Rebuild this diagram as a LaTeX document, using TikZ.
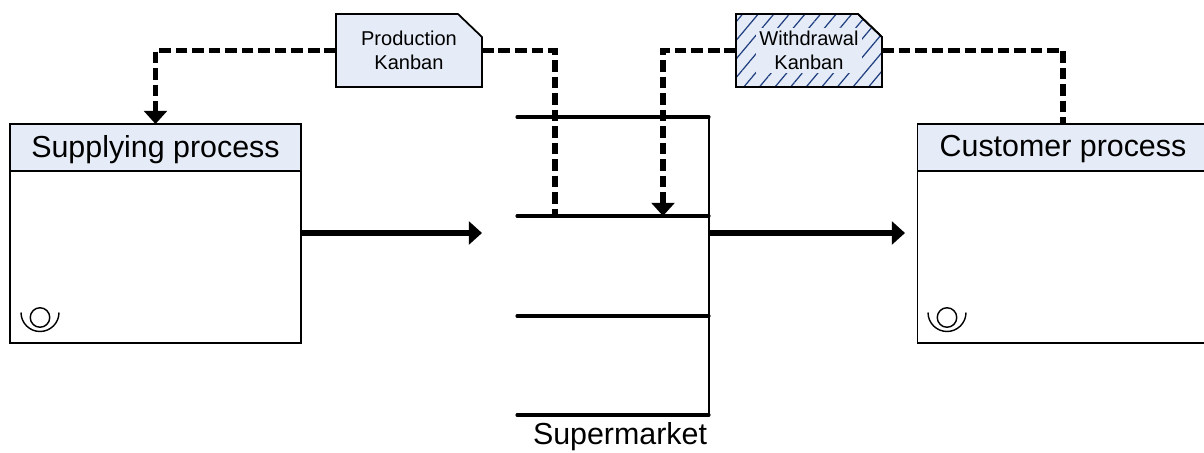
\documentclass[tikz,border=0pt]{standalone}
\usepackage{fontspec}
\setmainfont{Liberation Sans}
\usetikzlibrary{arrows.meta}
\usetikzlibrary{calc, patterns.meta}
\definecolor{kanbanfill}{RGB}{230,236,247}
\definecolor{hatchblue}{RGB}{31,63,128}
\tikzset{
  titlebox/.style={draw=black, line width=0.7pt, fill=kanbanfill, minimum width=291*0.569pt, minimum height=47*0.569pt, inner sep=0pt, outer sep=0pt, text depth=1.5pt, font=\fontsize{17.3}{20}\selectfont},
  bodybox/.style={draw=black, line width=0.7pt, fill=white, minimum width=291*0.569pt, minimum height=172*0.569pt, inner sep=0pt, outer sep=0pt},
  kanbanbox/.style={minimum width=146*0.569pt, minimum height=73*0.569pt, inner sep=0pt, outer sep=0pt},
  kanbanedge/.style={draw=black, line width=1pt, fill=kanbanfill},
  kanbantext/.style={align=center, inner sep=2pt, font=\fontsize{11.4}{13.8}\selectfont},
  signal/.style={black, line width=3.3pt, dash pattern=on 6.6pt off 2.8pt},
  flow/.style={black, line width=3pt},
  shelf/.style={black, line width=1.8pt, line cap=round},
  backline/.style={black, line width=1.5pt},
  opicon/.pic={
    \node [circle, draw=black, line width=0.8pt, minimum size=19.5*0.569pt, inner sep=0pt] (-head) at (0,0) {};
    \draw [black, line width=0.8pt] (-19,5) arc [start angle=180, end angle=360, radius=19];
  }
}
\begin{document}
\begin{tikzpicture}[x=0.02cm, y=0.02cm]
  \useasboundingbox (0,0) rectangle (1204,453);

  % boxes
  \node [titlebox] (suptitle) at (155.5,305.5) {Supplying process};
  \node [bodybox, anchor=north] (supbody) at (suptitle.south) {};
  \node [titlebox] (custitle) at (1063,305.5) {Customer process};
  \node [bodybox, anchor=north] (cusbody) at (custitle.south) {};
  \pic (supop) at (40,135.5) {opicon};
  \pic (cusop) at (947,135.5) {opicon};

  % supermarket
  \coordinate (shelfa) at (517,336);
  \coordinate (shelfb) at (517,237);
  \coordinate (shelfc) at (517,137);
  \coordinate (shelfd) at (517,38);
  \coordinate (backa) at (709,336);
  \coordinate (backb) at (709,237);
  \coordinate (backc) at (709,137);
  \coordinate (backd) at (709,38);
  \draw [shelf] (shelfa) -- (backa);
  \draw [shelf] (shelfb) -- (backb);
  \draw [shelf] (shelfc) -- (backc);
  \draw [shelf] (shelfd) -- (backd);
  \draw [backline] (backa) -- (backd);
  \node [font=\fontsize{17.3}{20}\selectfont] (market) at (620,16) {Supermarket};

  % kanban cards
  \node [kanbanbox] (prodcard) at (409,402.5) {};
  \node [kanbanbox] (withcard) at (809,402.5) {};
  \draw [kanbanedge] (prodcard.south west) -- (prodcard.north west) -- ($(prodcard.north east)+(-24,0)$) -- ($(prodcard.north east)+(0,-23)$) -- (prodcard.south east) -- cycle;
  \draw [kanbanedge] (withcard.south west) -- (withcard.north west) -- ($(withcard.north east)+(-24,0)$) -- ($(withcard.north east)+(0,-23)$) -- (withcard.south east) -- cycle;
  \fill [pattern={Lines[angle=50, distance=6.8pt, line width=0.7pt]}, pattern color=hatchblue] (withcard.south west) -- (withcard.north west) -- ($(withcard.north east)+(-24,0)$) -- ($(withcard.north east)+(0,-23)$) -- (withcard.south east) -- cycle;
  \draw [black, line width=1pt] (withcard.south west) -- (withcard.north west) -- ($(withcard.north east)+(-24,0)$) -- ($(withcard.north east)+(0,-23)$) -- (withcard.south east) -- cycle;
  \node [kanbantext] (prodtext) at (prodcard) {Production\\Kanban};
  \node [kanbantext, fill=kanbanfill] (withtext) at (withcard) {Withdrawal\\Kanban};

  % signals
  \coordinate (prodend) at (555,237);
  \coordinate (withend) at (663,237);
  \draw [signal, arrows=-{Triangle[length=7.5pt, width=13pt]}] (prodcard.west) -| (suptitle.north);
  \draw [signal] (prodcard.east) -| (prodend);
  \draw [signal, arrows=-{Triangle[length=7.5pt, width=13pt]}] (withcard.west) -| (withend);
  \draw [signal] (withcard.east) -| (custitle.north);

  % flows
  \coordinate (supflow) at (301,220);
  \coordinate (marketin) at (482,220);
  \coordinate (marketout) at (709,220);
  \coordinate (cusflow) at (905,220);
  \draw [flow, arrows=-{Triangle[length=7.5pt, width=13pt]}] (supflow) -- (marketin);
  \draw [flow, arrows=-{Triangle[length=7.5pt, width=13pt]}] (marketout) -- (cusflow);
\end{tikzpicture}
\end{document}
